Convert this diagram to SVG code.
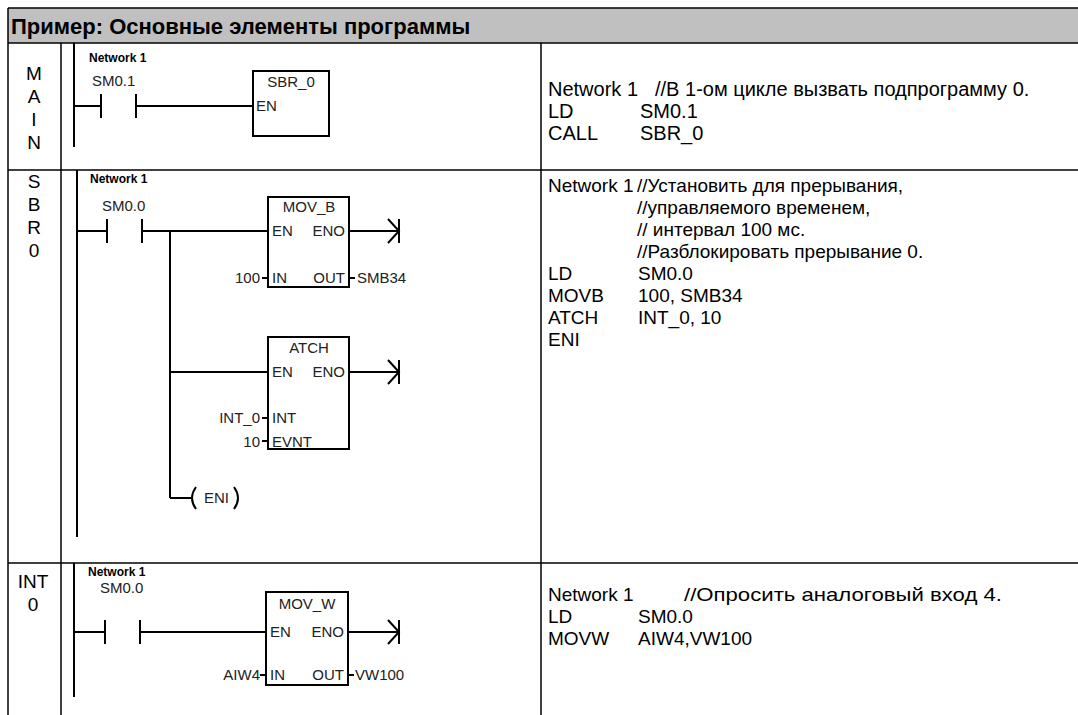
<svg xmlns="http://www.w3.org/2000/svg" width="1078" height="715" viewBox="0 0 1078 715">
<style>
.grid{stroke:#000;stroke-width:1.5;fill:none}
.w{stroke:#000;stroke-width:2;fill:none}
.box{stroke:#000;stroke-width:2;fill:#fff}
.lt{font-family:"Liberation Sans",Arial,sans-serif;font-size:19px;fill:#000;text-anchor:middle}
.rt{font-family:"Liberation Sans",Arial,sans-serif;font-size:19px;fill:#000}
.rt2{font-family:"Liberation Sans",Arial,sans-serif;font-size:20px;fill:#000}
.hd{font-family:"Liberation Sans",Arial,sans-serif;font-size:22px;font-weight:bold;fill:#000}
.nw{font-family:"Liberation Sans",Arial,sans-serif;font-size:12px;font-weight:bold;fill:#000}
.lb{font-family:"Liberation Sans",Arial,sans-serif;font-size:15px;fill:#222}
.lbm{font-family:"Liberation Sans",Arial,sans-serif;font-size:15px;fill:#222;text-anchor:middle}
.lbe{font-family:"Liberation Sans",Arial,sans-serif;font-size:15px;fill:#222;text-anchor:end}
</style>
<defs>
<g id="endArrow"><path class="w" d="M-11,-12 L0,0 L-11,12 M0,-12 L0,12"/></g>
</defs>
<rect x="0" y="0" width="1078" height="715" fill="#fff"/>
<g id="table">
<rect x="8" y="8" width="1070" height="35" fill="#c0c0c0"/>
<line class="grid" x1="8" y1="8" x2="1078" y2="8"/>
<line class="grid" x1="8" y1="43" x2="1078" y2="43"/>
<line class="grid" x1="8" y1="170" x2="1078" y2="170"/>
<line class="grid" x1="8" y1="563" x2="1078" y2="563"/>
<line class="grid" x1="8" y1="8" x2="8" y2="715"/>
<line class="grid" x1="61" y1="43" x2="61" y2="715"/>
<line class="grid" x1="541" y1="43" x2="541" y2="715"/>
<text class="hd" x="11" y="34">Пример: Основные элементы программы</text>
</g>
<g id="labels">
<text class="lt" x="34" y="80">M</text>
<text class="lt" x="34" y="103">A</text>
<text class="lt" x="34" y="126">I</text>
<text class="lt" x="34" y="149">N</text>
<text class="lt" x="34" y="188">S</text>
<text class="lt" x="34" y="211">B</text>
<text class="lt" x="34" y="234">R</text>
<text class="lt" x="34" y="257">0</text>
<text class="lt" x="33" y="588">INT</text>
<text class="lt" x="33" y="611">0</text>
</g>
<g id="main-ladder">
<line class="w" x1="74" y1="43" x2="74" y2="147"/>
<text class="nw" x="89" y="62">Network 1</text>
<g id="main-contact">
<text class="lb" x="92" y="86">SM0.1</text>
<line class="w" x1="101" y1="94" x2="101" y2="118"/>
<line class="w" x1="136" y1="94" x2="136" y2="118"/>
</g>
<g id="main-sbr0">
<rect class="box" x="253" y="71" width="76" height="65"/>
<text class="lbm" x="291" y="87">SBR_0</text>
<text class="lb" x="256" y="111">EN</text>
</g>
</g>
<g id="sbr-ladder">
<line class="w" x1="77" y1="170" x2="77" y2="537"/>
<text class="nw" x="90" y="183">Network 1</text>
<g id="sbr-contact">
<text class="lb" x="102" y="211">SM0.0</text>
<line class="w" x1="107" y1="219" x2="107" y2="243"/>
<line class="w" x1="142" y1="219" x2="142" y2="243"/>
</g>
<g id="movb">
<rect class="box" x="268" y="197" width="81" height="90"/>
<text class="lbm" x="309" y="212">MOV_B</text>
<text class="lb" x="272" y="236">EN</text>
<text class="lbe" x="345" y="236">ENO</text>
<text class="lb" x="272" y="283">IN</text>
<text class="lbe" x="345" y="283">OUT</text>
<text class="lbe" x="260" y="283">100</text>
<text class="lb" x="357" y="283">SMB34</text>
</g>
<g id="atch">
<rect class="box" x="268" y="337" width="81" height="112"/>
<text class="lbm" x="309" y="353">ATCH</text>
<text class="lb" x="272" y="377">EN</text>
<text class="lbe" x="345" y="377">ENO</text>
<text class="lb" x="272" y="423">INT</text>
<text class="lb" x="272" y="447">EVNT</text>
<text class="lbe" x="260" y="423">INT_0</text>
<text class="lbe" x="260" y="447">10</text>
</g>
<g id="eni">
<path class="w" d="M196,487 Q188,498 196,509"/>
<path class="w" d="M234,487 Q242,498 234,509"/>
<text class="lb" x="204" y="503">ENI</text>
</g>
</g>
<g id="int-ladder">
<line class="w" x1="74" y1="563" x2="74" y2="697"/>
<text class="nw" x="88" y="576">Network 1</text>
<g id="int-contact">
<text class="lb" x="100" y="593">SM0.0</text>
<line class="w" x1="105" y1="620" x2="105" y2="644"/>
<line class="w" x1="140" y1="620" x2="140" y2="644"/>
</g>
<g id="movw">
<rect class="box" x="266" y="592" width="82" height="93"/>
<text class="lbm" x="307" y="609">MOV_W</text>
<text class="lb" x="270" y="637">EN</text>
<text class="lbe" x="344" y="637">ENO</text>
<text class="lb" x="270" y="680">IN</text>
<text class="lbe" x="344" y="680">OUT</text>
<text class="lbe" x="260" y="680">AIW4</text>
<text class="lb" x="355" y="680">VW100</text>
</g>
</g>
<g id="connectors">
<path class="w" d="M74,106 H101 M136,106 H253"/>
<path class="w" d="M77,231 H107 M142,231 H268 M170,231 V498 M170,372 H268 M170,498 H193"/>
<path class="w" d="M349,231 H399 M349,372 H399"/>
<path class="w" d="M262,278 H268 M349,278 H355 M262,418 H268 M262,441 H268"/>
<use href="#endArrow" x="399" y="231"/>
<use href="#endArrow" x="399" y="372"/>
<path class="w" d="M74,632 H105 M140,632 H266 M348,632 H399"/>
<path class="w" d="M260,675 H266 M348,675 H354"/>
<use href="#endArrow" x="399" y="632"/>
</g>
<g id="il-text">
<text class="rt2" x="548" y="96">Network 1</text>
<text class="rt2" x="655" y="96">//В 1-ом цикле вызвать подпрограмму 0.</text>
<text class="rt2" x="548" y="118">LD</text>
<text class="rt2" x="640" y="118">SM0.1</text>
<text class="rt2" x="548" y="140">CALL</text>
<text class="rt2" x="640" y="140">SBR_0</text>
<text class="rt" x="548" y="192">Network 1</text>
<text class="rt" x="637" y="192">//Установить для прерывания,</text>
<text class="rt" x="637" y="214">//управляемого временем,</text>
<text class="rt" x="637" y="236">// интервал 100 мс.</text>
<text class="rt" x="637" y="258">//Разблокировать прерывание 0.</text>
<text class="rt" x="548" y="280">LD</text>
<text class="rt" x="638" y="280">SM0.0</text>
<text class="rt" x="548" y="302">MOVB</text>
<text class="rt" x="638" y="302">100, SMB34</text>
<text class="rt" x="548" y="324">ATCH</text>
<text class="rt" x="638" y="324">INT_0, 10</text>
<text class="rt" x="548" y="346">ENI</text>
<text class="rt" x="548" y="601">Network 1</text>
<text class="rt" x="684" y="601" textLength="318" lengthAdjust="spacingAndGlyphs">//Опросить аналоговый вход 4.</text>
<text class="rt" x="548" y="623">LD</text>
<text class="rt" x="638" y="623">SM0.0</text>
<text class="rt" x="548" y="645">MOVW</text>
<text class="rt" x="638" y="645">AIW4,VW100</text>
</g>
</svg>
